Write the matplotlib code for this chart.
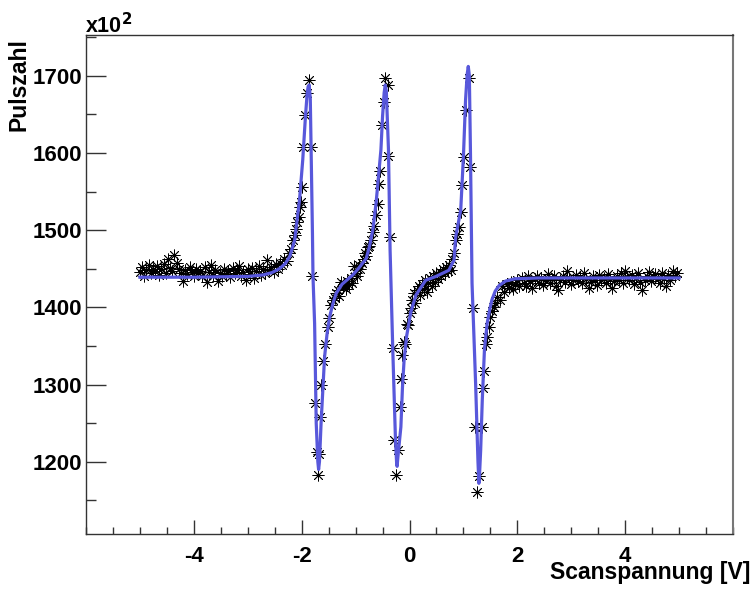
import matplotlib
matplotlib.use("Agg")
import matplotlib.pyplot as plt
from matplotlib.ticker import MultipleLocator

plt.rcParams['font.family'] = ['Liberation Sans', 'DejaVu Sans']
plt.rcParams['font.weight'] = 'bold'
plt.rcParams['mathtext.default'] = 'bf'

# measured points (scan voltage [V], counts / 100)
scan_v = [
    -5.00, -4.96, -4.92, -4.88, -4.84, -4.80, -4.76, -4.72, -4.68, -4.64,
    -4.60, -4.56, -4.52, -4.48, -4.44, -4.40, -4.36, -4.32, -4.28, -4.24,
    -4.20, -4.16, -4.12, -4.08, -4.04, -4.00, -3.96, -3.92, -3.88, -3.84,
    -3.80, -3.76, -3.72, -3.68, -3.64, -3.60, -3.56, -3.52, -3.48, -3.44,
    -3.40, -3.36, -3.32, -3.28, -3.24, -3.20, -3.16, -3.12, -3.08, -3.04,
    -3.00, -2.96, -2.92, -2.88, -2.84, -2.80, -2.76, -2.72, -2.68, -2.64,
    -2.60, -2.56, -2.52, -2.48, -2.44, -2.40, -2.36, -2.32, -2.28, -2.24,
    -2.20, -2.16, -2.13, -2.10, -2.08, -2.055, -2.03, -2.02, -1.99, -1.976,
    -1.93, -1.90, -1.86, -1.82, -1.80, -1.76, -1.72, -1.70, -1.68, -1.655,
    -1.64, -1.60, -1.56, -1.52, -1.49, -1.46, -1.42, -1.39, -1.36, -1.33,
    -1.30, -1.27, -1.24, -1.21, -1.18, -1.15, -1.12, -1.09, -1.06, -1.03,
    -1.00, -0.97, -0.94, -0.91, -0.88, -0.85, -0.82, -0.80, -0.77, -0.745,
    -0.71, -0.68, -0.65, -0.62, -0.59, -0.56, -0.547, -0.51, -0.48, -0.45,
    -0.405, -0.39, -0.357, -0.31, -0.29, -0.25, -0.22, -0.18, -0.16, -0.13,
    -0.10, -0.085, -0.055, -0.03, 0.00, 0.025, 0.05, 0.08, 0.11, 0.14,
    0.17, 0.20, 0.23, 0.26, 0.29, 0.32, 0.35, 0.38, 0.41, 0.44,
    0.47, 0.50, 0.53, 0.56, 0.59, 0.62, 0.65, 0.68, 0.71, 0.74,
    0.77, 0.795, 0.82, 0.857, 0.89, 0.918, 0.949, 0.98, 1.01, 1.04,
    1.10, 1.13, 1.18, 1.21, 1.26, 1.29, 1.35, 1.36, 1.39, 1.41,
    1.44, 1.47, 1.50, 1.53, 1.56, 1.59, 1.63, 1.67, 1.72, 1.76,
    1.80, 1.84, 1.88, 1.92, 1.96, 2.00, 2.04, 2.08, 2.12, 2.16,
    2.20, 2.24, 2.28, 2.32, 2.36, 2.40, 2.44, 2.48, 2.52, 2.56,
    2.60, 2.64, 2.68, 2.72, 2.76, 2.80, 2.84, 2.88, 2.92, 2.96,
    3.00, 3.04, 3.08, 3.12, 3.16, 3.20, 3.24, 3.28, 3.32, 3.36,
    3.40, 3.44, 3.48, 3.52, 3.56, 3.60, 3.64, 3.68, 3.72, 3.76,
    3.80, 3.84, 3.88, 3.92, 3.96, 4.00, 4.04, 4.08, 4.12, 4.16,
    4.20, 4.24, 4.28, 4.32, 4.36, 4.40, 4.44, 4.48, 4.52, 4.56,
    4.60, 4.64, 4.68, 4.72, 4.76, 4.80, 4.84, 4.88, 4.92, 4.96,
]
counts = [
    1446, 1452, 1441, 1448, 1455, 1444, 1450, 1447, 1453, 1442,
    1449, 1456, 1445, 1462, 1451, 1447, 1468, 1458, 1450, 1444,
    1434, 1448, 1443, 1452, 1446, 1441, 1449, 1444, 1447, 1440,
    1452, 1433, 1446, 1455, 1442, 1448, 1434, 1445, 1440, 1450,
    1443, 1447, 1439, 1451, 1444, 1448, 1453, 1441, 1446, 1435,
    1449, 1443, 1451, 1438, 1447, 1454, 1442, 1449, 1445, 1461,
    1448, 1452, 1446, 1456, 1450, 1458, 1455, 1463, 1460, 1470,
    1476, 1487, 1494, 1502, 1510, 1517, 1530, 1537, 1556, 1608,
    1649, 1677, 1694, 1608, 1440, 1276, 1213, 1183, 1210, 1258,
    1300, 1330, 1352, 1375, 1386, 1403, 1410, 1412, 1418, 1422,
    1415, 1433, 1426, 1430, 1424, 1434, 1429, 1438, 1432, 1453,
    1445, 1441, 1455, 1450, 1458, 1462, 1470, 1466, 1478, 1480,
    1487, 1498, 1505, 1520, 1534, 1560, 1577, 1636, 1666, 1697,
    1688, 1596, 1491, 1347, 1228, 1183, 1215, 1271, 1307, 1338,
    1355, 1353, 1379, 1377, 1392, 1399, 1410, 1418, 1405, 1422,
    1427, 1416, 1430, 1424, 1435, 1420, 1432, 1438, 1427, 1440,
    1433, 1444, 1437, 1446, 1441, 1449, 1444, 1452, 1447, 1455,
    1448, 1463, 1470, 1487, 1495, 1504, 1524, 1558, 1595, 1656,
    1697, 1582, 1399, 1245, 1161, 1181, 1245, 1295, 1317, 1353,
    1362, 1375, 1388, 1395, 1401, 1405, 1414, 1410, 1427, 1420,
    1430, 1425, 1433, 1424, 1430, 1435, 1428, 1438, 1432, 1427,
    1440, 1434, 1425, 1437, 1441, 1432, 1438, 1429, 1436, 1443,
    1431, 1437, 1440, 1428, 1422, 1435, 1441, 1433, 1447, 1438,
    1430, 1436, 1442, 1434, 1439, 1432, 1444, 1437, 1425, 1433,
    1440, 1436, 1429, 1442, 1435, 1438, 1431, 1443, 1437, 1425,
    1434, 1440, 1436, 1445, 1432, 1447, 1439, 1435, 1442, 1430,
    1438, 1444, 1433, 1422, 1436, 1441, 1446, 1434, 1439, 1443,
    1437, 1431, 1444, 1438, 1427, 1442, 1436, 1447, 1440, 1445,
]

# fitted curve
fit_v = [
    -5.00, -4.00, -3.00, -2.71, -2.55, -2.41, -2.30, -2.22, -2.13, -2.04,
    -1.98, -1.93, -1.90, -1.88, -1.86, -1.84, -1.80, -1.79, -1.76, -1.73,
    -1.70, -1.686, -1.67, -1.64, -1.575, -1.53, -1.48, -1.42, -1.36, -1.25,
    -1.15, -1.05, -0.95, -0.805, -0.745, -0.68, -0.62, -0.53, -0.50, -0.47,
    -0.45, -0.43, -0.39, -0.36, -0.31, -0.26, -0.24, -0.23, -0.21, -0.16,
    -0.13, -0.10, -0.055, 0.025, 0.12, 0.30, 0.49, 0.73, 0.825, 0.857,
    0.95, 1.00, 1.04, 1.07, 1.09, 1.11, 1.13, 1.16, 1.226, 1.27,
    1.287, 1.30, 1.32, 1.35, 1.39, 1.44, 1.49, 1.53, 1.59, 1.66,
    1.78, 1.96, 2.40, 3.00, 4.00, 5.00,
]
fit_counts = [
    1439, 1439, 1440, 1442, 1445, 1450, 1457, 1466, 1487, 1539,
    1591, 1647, 1675, 1686, 1688, 1670, 1496, 1440, 1379, 1250,
    1200, 1190, 1200, 1250, 1336, 1365, 1388, 1405, 1418, 1430,
    1436, 1442, 1450, 1463, 1478, 1500, 1535, 1604, 1647, 1678,
    1688, 1680, 1604, 1474, 1345, 1228, 1200, 1194, 1210, 1245,
    1297, 1332, 1362, 1394, 1416, 1435, 1440, 1448, 1461, 1491,
    1526, 1595, 1669, 1702, 1712, 1700, 1604, 1431, 1302, 1200,
    1172, 1185, 1215, 1280, 1345, 1379, 1398, 1410, 1421, 1428,
    1434, 1437, 1438, 1438, 1438, 1438,
]

xticks = [-4, -2, 0, 2, 4]
yticks = [1200, 1300, 1400, 1500, 1600, 1700]

fig = plt.figure(figsize=(7.55, 5.91), dpi=100)
ax = fig.add_axes([86 / 755, 1 - 534 / 591, (733 - 86) / 755, (534 - 35) / 591])

ax.plot(scan_v, counts, linestyle='none', marker=(8, 2, 0), markersize=8.5,
        markeredgewidth=0.6, color='black')
ax.plot(fit_v, fit_counts, color='#5858db', linewidth=2.3)

ax.set_xlim(-6, 6)
ax.set_ylim(1106.4, 1752.7)
ax.set_xticks(xticks)
ax.set_yticks(yticks)
ax.set_xticklabels([str(t) for t in xticks])
ax.set_yticklabels([str(t) for t in yticks])
ax.xaxis.set_minor_locator(MultipleLocator(0.5))
ax.yaxis.set_minor_locator(MultipleLocator(50))

ax.tick_params(axis='x', which='major', direction='in', length=10, width=1,
               labelsize=16, pad=9, color='#333333')
ax.tick_params(axis='x', which='minor', direction='in', length=5, width=1,
               color='#333333')
ax.tick_params(axis='y', which='major', direction='in', length=14.5, width=1,
               labelsize=16, pad=3, color='#333333')
ax.tick_params(axis='y', which='minor', direction='in', length=7.2, width=1,
               color='#333333')
for lab in ax.get_xticklabels() + ax.get_yticklabels():
    lab.set_fontweight('bold')
for s in ax.spines.values():
    s.set_color('#333333')
    s.set_linewidth(1)
ax.spines['right'].set_color('#777777')
ax.spines['right'].set_linewidth(1.5)

fig.text(19 / 755, 1 - 38 / 591, 'Pulszahl', rotation=90, ha='center', va='top',
         fontsize=16.5, fontweight='bold')
fig.text(750 / 755, 1 - 579 / 591, 'Scanspannung [V]', ha='right', va='baseline',
         fontsize=16.5, fontweight='bold')
fig.text(85 / 755, 1 - 33 / 591, r'x10$^{2}$', ha='left', va='baseline',
         fontsize=15.5, fontweight='bold')

fig.savefig('out.png', dpi=100)
